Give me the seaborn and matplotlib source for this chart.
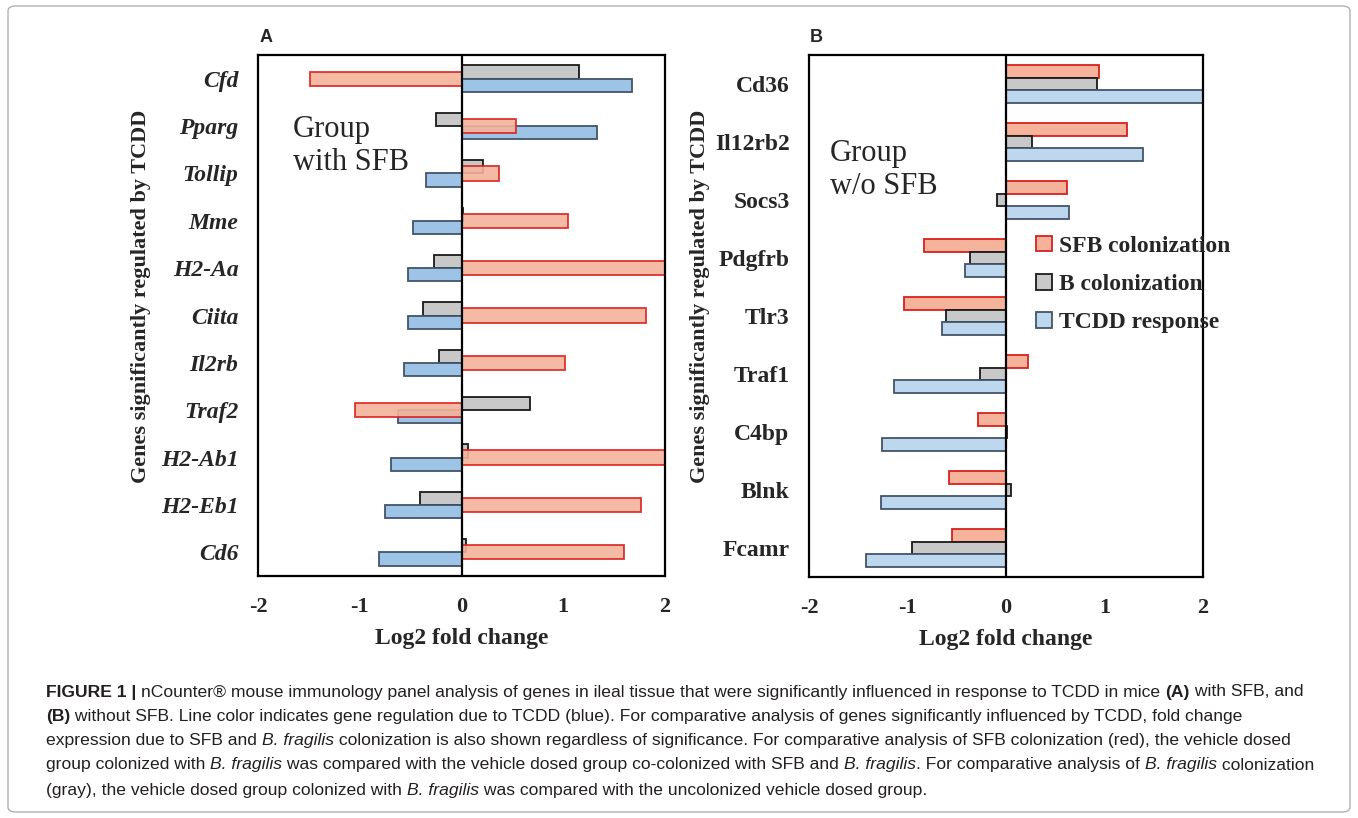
import matplotlib
matplotlib.use("Agg")
import matplotlib.pyplot as plt
from matplotlib.patches import FancyBboxPatch, Patch
import seaborn as sns
import pandas as pd

# Panel A: group with SFB
genes_a = ["Cfd", "Pparg", "Tollip", "Mme", "H2-Aa", "Ciita", "Il2rb",
           "Traf2", "H2-Ab1", "H2-Eb1", "Cd6"]
sfb_a = [-1.49, 0.54, 0.37, 1.05, 2.3, 1.81, 1.02, -1.05, 2.3, 1.76, 1.60]
bcol_a = [1.15, -0.25, 0.21, 0.01, -0.27, -0.38, -0.22, 0.67, 0.06, -0.41, 0.04]
tcdd_a = [1.68, 1.33, -0.35, -0.48, -0.53, -0.53, -0.57, -0.62, -0.69, -0.75, -0.81]

# Panel B: group without SFB
genes_b = ["Cd36", "Il12rb2", "Socs3", "Pdgfrb", "Tlr3", "Traf1", "C4bp",
           "Blnk", "Fcamr"]
sfb_b = [0.94, 1.23, 0.62, -0.83, -1.04, 0.22, -0.28, -0.58, -0.55]
bcol_b = [0.92, 0.26, -0.09, -0.37, -0.61, -0.26, 0.01, 0.05, -0.95]
tcdd_b = [2.1, 1.39, 0.64, -0.42, -0.65, -1.14, -1.26, -1.27, -1.42]

series_names = ["SFB colonization", "B colonization", "TCDD response"]


def long_df(genes, sfb, bcol, tcdd):
    rows = []
    for name, vals in zip(series_names, [sfb, bcol, tcdd]):
        for g, v in zip(genes, vals):
            rows.append({"gene": g, "series": name, "value": v})
    return pd.DataFrame(rows)


df_a = long_df(genes_a, sfb_a, bcol_a, tcdd_a)
df_b = long_df(genes_b, sfb_b, bcol_b, tcdd_b)

red_fill, red_edge = "#F4B39A", "#D9201F"
gray_fill, gray_edge = "#C8C8C8", "#1A1A1A"
blue_a_fill, blue_edge = "#9DC3E6", "#44546A"
blue_b_fill = "#BDD7EE"

sns.set_style("white")
plt.rcParams["font.family"] = ["Liberation Serif", "DejaVu Serif"]

fig = plt.figure(figsize=(13.58, 8.18), dpi=100)
W, H = 1358, 818
ax_a = fig.add_axes([258 / W, 1 - 576 / H, 407 / W, 521 / H])
ax_b = fig.add_axes([809 / W, 1 - 577 / H, 394 / W, 522 / H])

# ---- panel A
sub = df_a[df_a.series != "SFB colonization"]
sns.barplot(data=sub, y="gene", x="value", hue="series",
            hue_order=series_names[1:], palette=[gray_fill, blue_a_fill],
            order=genes_a, orient="h", width=0.56, errorbar=None,
            legend=False, ax=ax_a, linewidth=1.3, saturation=1)
for cont, ec in zip(ax_a.containers, [gray_edge, blue_edge]):
    for p in cont:
        p.set_edgecolor(ec)
sns.barplot(data=df_a[df_a.series == "SFB colonization"], y="gene", x="value",
            order=genes_a, orient="h", width=0.30, errorbar=None,
            color=red_fill, edgecolor=red_edge, linewidth=1.3, saturation=1,
            alpha=0.9, ax=ax_a)

# ---- panel B
sns.barplot(data=df_b, y="gene", x="value", hue="series",
            hue_order=series_names, order=genes_b,
            palette=[red_fill, gray_fill, blue_b_fill], orient="h",
            width=0.65, errorbar=None, legend=False, ax=ax_b,
            linewidth=1.3, saturation=1)
for cont, ec in zip(ax_b.containers, [red_edge, gray_edge, blue_edge]):
    for p in cont:
        p.set_edgecolor(ec)

handles = [Patch(facecolor=f, edgecolor=e, linewidth=1.3)
           for f, e in zip([red_fill, gray_fill, blue_b_fill],
                           [red_edge, gray_edge, blue_edge])]
ax_b.legend(handles, series_names, loc="upper left",
            bbox_to_anchor=(0.553, 0.672), frameon=False,
            prop={"weight": "bold", "size": 17}, handlelength=0.65,
            handleheight=0.65, handletextpad=0.3, labelspacing=0.72,
            borderaxespad=0)

for ax, italic, nb in [(ax_a, True, len(genes_a)), (ax_b, False, len(genes_b))]:
    ax.set_xlim(-2, 2)
    ax.set_ylim(nb - 0.5, -0.5)
    ax.axvline(0, color="black", lw=1.6, zorder=5)
    for s in ax.spines.values():
        s.set_visible(True)
        s.set_color("black")
        s.set_linewidth(1.6)
    ax.set_xticks([-2, -1, 0, 1, 2])
    ax.set_xticklabels(["-2", "-1", "0", "1", "2"], fontsize=16,
                       fontweight="bold")
    ax.tick_params(axis="both", length=0)
    ax.tick_params(axis="x", pad=15)
    ax.tick_params(axis="y", pad=14)
    for lab in ax.get_yticklabels():
        lab.set_fontsize(17)
        lab.set_fontweight("bold")
        if italic:
            lab.set_fontstyle("italic")
    ax.set_xlabel("Log2 fold change", fontsize=17, fontweight="bold",
                  labelpad=8)
    ax.set_ylabel("Genes significantly regulated by TCDD", fontsize=16,
                  fontweight="bold")
    ax.grid(False)

ax_a.yaxis.set_label_coords(-0.263, 0.537)
ax_b.yaxis.set_label_coords(-0.251, 0.538)

ax_a.text(0.086, 0.825, "Group\nwith SFB", transform=ax_a.transAxes,
          fontsize=22, ha="left", va="center", linespacing=1.2)
ax_b.text(0.053, 0.78, "Group\nw/o SFB", transform=ax_b.transAxes,
          fontsize=22, ha="left", va="center", linespacing=1.2)

fig.text(260 / W, 1 - 37 / H, "A", fontsize=13, fontweight="bold",
         family=["Liberation Sans", "DejaVu Sans"], va="center")
fig.text(810 / W, 1 - 37 / H, "B", fontsize=13, fontweight="bold",
         family=["Liberation Sans", "DejaVu Sans"], va="center")

# outer frame
fig.patches.append(FancyBboxPatch((8 / W, 6 / H), 1342 / W, 806 / H,
                                  boxstyle="round,pad=0,rounding_size=0.006",
                                  transform=fig.transFigure, fill=False,
                                  edgecolor="#B0B0B0", lw=1.0))

# caption, written run by run so bold and italic parts line up
cap_font = ["Liberation Sans Narrow", "Liberation Sans", "DejaVu Sans"]
caption = [
    [("FIGURE 1 | ", "bold", "normal"), ("nCounter\u00ae mouse immunology panel analysis of genes in ileal tissue that were significantly influenced in response to TCDD in mice ", "normal", "normal"), ("(A)", "bold", "normal"), (" with SFB, and", "normal", "normal")],
    [("(B)", "bold", "normal"), (" without SFB. Line color indicates gene regulation due to TCDD (blue). For comparative analysis of genes significantly influenced by TCDD, fold change", "normal", "normal")],
    [("expression due to SFB and ", "normal", "normal"), ("B. fragilis", "normal", "italic"), (" colonization is also shown regardless of significance. For comparative analysis of SFB colonization (red), the vehicle dosed", "normal", "normal")],
    [("group colonized with ", "normal", "normal"), ("B. fragilis", "normal", "italic"), (" was compared with the vehicle dosed group co-colonized with SFB and ", "normal", "normal"), ("B. fragilis", "normal", "italic"), (". For comparative analysis of ", "normal", "normal"), ("B. fragilis", "normal", "italic"), (" colonization", "normal", "normal")],
    [("(gray), the vehicle dosed group colonized with ", "normal", "normal"), ("B. fragilis", "normal", "italic"), (" was compared with the uncolonized vehicle dosed group.", "normal", "normal")],
]
line_y = [692, 716, 741, 765, 790]
renderer = fig.canvas.get_renderer()
for runs, yy in zip(caption, line_y):
    x = 46
    for txt, wt, st in runs:
        t = fig.text(x / W, 1 - yy / H, txt, fontsize=12.6, fontweight=wt,
                     fontstyle=st, family=cap_font, va="center", ha="left",
                     color="#231F20")
        bb = t.get_window_extent(renderer=renderer)
        x += bb.width

fig.savefig("out.png", dpi=100)
